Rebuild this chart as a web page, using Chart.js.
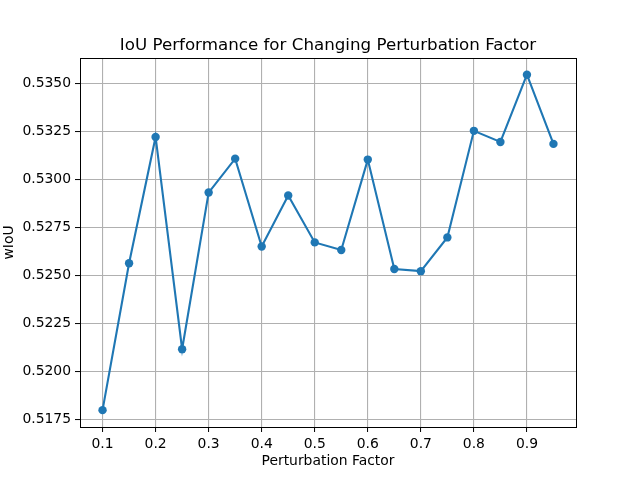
<!DOCTYPE html>
<html>
<head>
<meta charset="utf-8">
<script src="https://cdn.jsdelivr.net/npm/chart.js@4"></script>
<style>
  html, body { margin: 0; padding: 0; background: #ffffff; }
  #wrap { width: 640px; height: 480px; }
</style>
</head>
<body>
<div id="wrap"><canvas id="iouChart" width="640" height="480"></canvas></div>
<script>
// Dados do gráfico
const factors = [0.1, 0.15, 0.2, 0.25, 0.3, 0.35, 0.4, 0.45, 0.5, 0.55, 0.6, 0.65, 0.7, 0.75, 0.8, 0.85, 0.9, 0.95];
const wiou = [0.51797, 0.52563, 0.53222, 0.52115, 0.52932, 0.53109, 0.52651, 0.52917, 0.52672,
              0.52632, 0.53104, 0.52533, 0.52522, 0.52698, 0.53254, 0.53196, 0.53547, 0.53186];
const xTicks = [0.1, 0.2, 0.3, 0.4, 0.5, 0.6, 0.7, 0.8, 0.9];
const yTicks = [0.5175, 0.5200, 0.5225, 0.5250, 0.5275, 0.5300, 0.5325, 0.5350];
const xRange = [0.0575, 0.9925];
const yRange = [0.51709, 0.53634];
const chartTitle = 'IoU Performance for Changing Perturbation Factor';

const FONT = 'DejaVu Sans';

// Moldura completa (spines) e título centrado sobre a área do gráfico
const framePlugin = {
    id: 'frame',
    afterDraw(chart) {
        const a = chart.chartArea;
        const ctx = chart.ctx;
        ctx.save();
        ctx.strokeStyle = '#000000';
        ctx.lineWidth = 1;
        ctx.strokeRect(Math.round(a.left) + 0.5, Math.round(a.top) + 0.5,
                       Math.round(a.right - a.left), Math.round(a.bottom - a.top));
        ctx.fillStyle = '#000000';
        ctx.font = '16.7px "' + FONT + '"';
        ctx.textAlign = 'center';
        ctx.textBaseline = 'alphabetic';
        ctx.fillText(chartTitle, (a.left + a.right) / 2, a.top - 8);
        ctx.restore();
    }
};

document.addEventListener('DOMContentLoaded', function() {
    const ctx = document.getElementById('iouChart').getContext('2d');
    const chart = new Chart(ctx, {
        type: 'line',
        data: {
            datasets: [{
                label: 'wIoU',
                data: factors.map((f, i) => ({ x: f, y: wiou[i] })),
                borderColor: '#1f77b4',
                backgroundColor: '#1f77b4',
                borderWidth: 2.1,
                pointRadius: 4.2,
                pointHoverRadius: 4.2,
                pointBorderWidth: 0,
                tension: 0,
                fill: false
            }]
        },
        options: {
            responsive: false,
            animation: false,
            devicePixelRatio: 1,
            layout: { padding: { left: 0, right: 64, top: 58, bottom: 0 } },
            plugins: {
                legend: { display: false },
                tooltip: { enabled: false },
                title: { display: false }
            },
            scales: {
                x: {
                    type: 'linear',
                    min: xRange[0],
                    max: xRange[1],
                    afterBuildTicks: function(scale) {
                        scale.ticks = xTicks.map(v => ({ value: v }));
                    },
                    afterFit: function(scale) { scale.height = 53; },
                    grid: { color: '#b0b0b0', lineWidth: 1.1, tickLength: 5, tickColor: '#000000', tickWidth: 1 },
                    border: { display: true, color: '#000000', width: 1 },
                    ticks: {
                        color: '#000000',
                        padding: 4,
                        maxRotation: 0,
                        autoSkip: false,
                        font: { family: FONT, size: 13.9 },
                        callback: function(value) { return value.toFixed(1); }
                    },
                    title: {
                        display: true,
                        text: 'Perturbation Factor',
                        color: '#000000',
                        font: { family: FONT, size: 13.9, lineHeight: 1.2 },
                        padding: { top: 0, bottom: 10 }
                    }
                },
                y: {
                    type: 'linear',
                    min: yRange[0],
                    max: yRange[1],
                    afterBuildTicks: function(scale) {
                        scale.ticks = yTicks.map(v => ({ value: v }));
                    },
                    afterFit: function(scale) { scale.width = 80; },
                    grid: { color: '#b0b0b0', lineWidth: 1.1, tickLength: 5, tickColor: '#000000', tickWidth: 1 },
                    border: { display: true, color: '#000000', width: 1 },
                    ticks: {
                        color: '#000000',
                        padding: 4,
                        autoSkip: false,
                        font: { family: FONT, size: 13.9 },
                        callback: function(value) { return value.toFixed(4); }
                    },
                    title: {
                        display: true,
                        text: 'wIoU',
                        color: '#000000',
                        font: { family: FONT, size: 13.9, lineHeight: 1.2 },
                        padding: { top: 1, bottom: 0 }
                    }
                }
            }
        },
        plugins: [framePlugin]
    });
});
</script>
</body>
</html>
